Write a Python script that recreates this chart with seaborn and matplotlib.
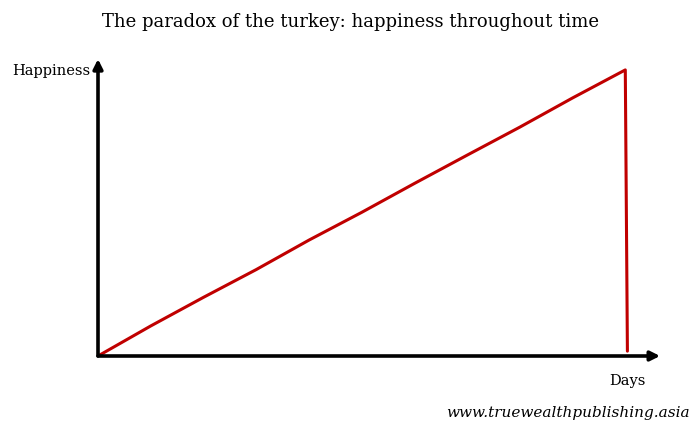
import numpy as np
import pandas as pd
import matplotlib
matplotlib.use('Agg')
import matplotlib.pyplot as plt
import seaborn as sns
sns.set_style('white')
plt.rcParams['font.family'] = ['DejaVu Serif']
plt.rcParams['text.color'] = 'black'

# turkey happiness: rises steadily, then collapses on the last day
days = [0, 100, 200, 300, 400, 500, 600, 700, 800, 900, 1000, 1004]
happiness = [0, 10.5, 20.5, 30.2, 40.5, 50.2, 60.3, 70.2, 80.0, 90.2, 100, 1.7]

df = pd.DataFrame({'days': days, 'happiness': happiness})

fig = plt.figure(figsize=(7, 4.31), dpi=100)
ax = fig.add_axes([0.14, 0.1717, 0.803, 0.689])

sns.lineplot(data=df, x='days', y='happiness', sort=False, color='#C00000',
             linewidth=2.2, ax=ax)

ax.set_xlim(0, 1066)
ax.set_ylim(0, 103.8)
for s in ax.spines.values():
    s.set_visible(False)
ax.set_xticks([])
ax.set_yticks([])
ax.set_xlabel('')
ax.set_ylabel('')

# axes with arrow heads
ax.annotate('', xy=(1.0, 0), xytext=(0, 0), xycoords='axes fraction',
            arrowprops=dict(arrowstyle='-|>', color='black', lw=2.6,
                            mutation_scale=14, shrinkA=0, shrinkB=0))
ax.annotate('', xy=(0, 1.0), xytext=(0, 0), xycoords='axes fraction',
            arrowprops=dict(arrowstyle='-|>', color='black', lw=2.6,
                            mutation_scale=14, shrinkA=0, shrinkB=0))

fig.text(0.5, 0.95, 'The paradox of the turkey: happiness throughout time',
         ha='center', va='center', fontsize=13)
fig.text(0.017, 0.835, 'Happiness', ha='left', va='center', fontsize=10.5)
fig.text(0.897, 0.116, 'Days', ha='center', va='center', fontsize=10.5)
fig.text(0.986, 0.041, 'www.truewealthpublishing.asia', ha='right',
         va='center', fontsize=11, style='italic')

fig.savefig('out.png', dpi=100)
